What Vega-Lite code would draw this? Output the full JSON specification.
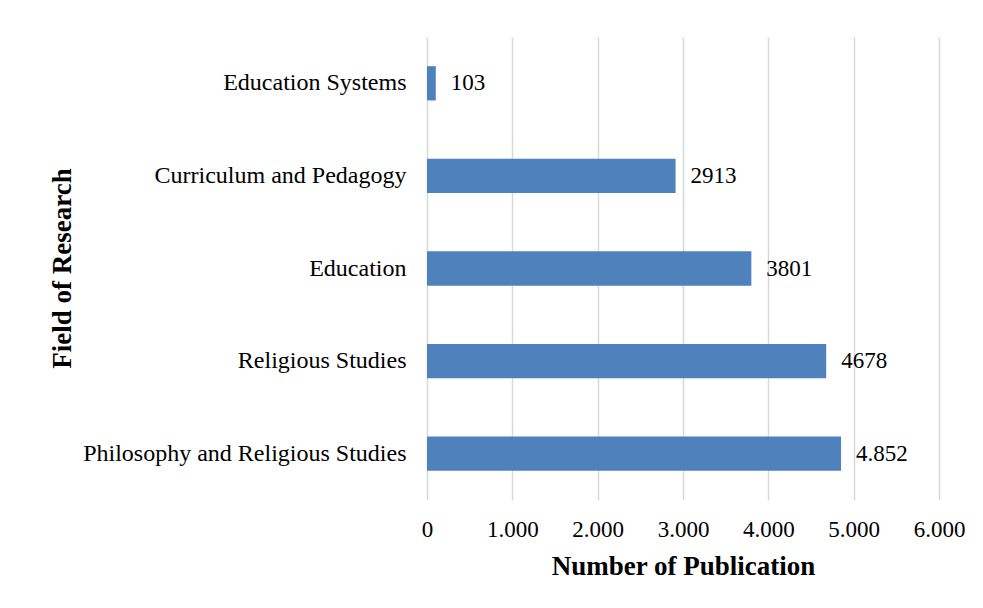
{
  "$schema": "https://vega.github.io/schema/vega-lite/v6.json",
  "autosize": {"type": "none"},
  "width": 512,
  "height": 463,
  "padding": {"left": 427, "top": 37, "right": 44, "bottom": 108},
  "background": "white",
  "config": {
    "view": {"stroke": null},
    "font": "Liberation Serif",
    "text": {"font": "Liberation Serif"}
  },
  "data": {
    "values": [
      {"field": "Education Systems", "count": 103, "label": "103"},
      {"field": "Curriculum and Pedagogy", "count": 2913, "label": "2913"},
      {"field": "Education", "count": 3801, "label": "3801"},
      {"field": "Religious Studies", "count": 4678, "label": "4678"},
      {"field": "Philosophy and Religious Studies", "count": 4852, "label": "4.852"}
    ]
  },
  "encoding": {
    "y": {
      "field": "field",
      "type": "nominal",
      "sort": null,
      "scale": {"paddingInner": 0.63, "paddingOuter": 0.315},
      "axis": {
        "title": "Field of Research",
        "titleFont": "Liberation Serif",
        "titleFontSize": 27,
        "titleFontWeight": "bold",
        "titleColor": "#000000",
        "titleAngle": -90,
        "titleX": -365,
        "titleY": 231,
        "titleAlign": "center",
        "titleBaseline": "middle",
        "labelFont": "Liberation Serif",
        "labelFontSize": 24,
        "labelColor": "#000000",
        "labelPadding": 21,
        "labelLimit": 500,
        "ticks": false,
        "domain": false,
        "grid": false
      }
    }
  },
  "layer": [
    {
      "mark": {"type": "bar", "color": "#4F81BD"},
      "encoding": {
        "x": {
          "field": "count",
          "type": "quantitative",
          "scale": {"domain": [0, 6000], "nice": false},
          "axis": {
            "title": "Number of Publication",
            "titleFont": "Liberation Serif",
            "titleFontSize": 27,
            "titleFontWeight": "bold",
            "titleColor": "#000000",
            "titlePadding": 12,
            "values": [0, 1000, 2000, 3000, 4000, 5000, 6000],
            "labelExpr": "replace(format(datum.value, ','), ',', '.')",
            "labelFont": "Liberation Serif",
            "labelFontSize": 23,
            "labelColor": "#000000",
            "labelPadding": 18,
            "labelFlush": false,
            "labelOverlap": false,
            "ticks": false,
            "domain": false,
            "grid": true,
            "gridColor": "#d9d9d9",
            "gridWidth": 1.5
          }
        }
      }
    },
    {
      "mark": {"type": "text", "align": "left", "baseline": "middle", "dx": 15, "fontSize": 23, "font": "Liberation Serif", "color": "#000000"},
      "encoding": {
        "x": {"field": "count", "type": "quantitative"},
        "text": {"field": "label"}
      }
    }
  ]
}
